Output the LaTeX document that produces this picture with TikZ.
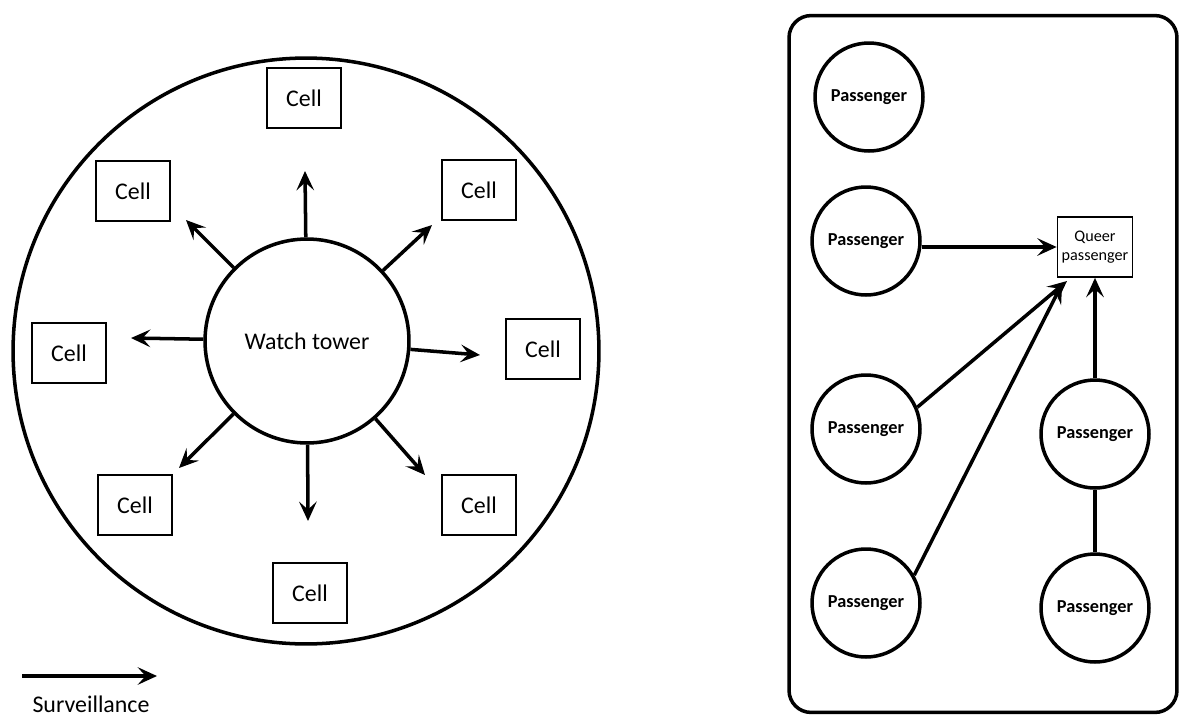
\documentclass[tikz,border=0pt]{standalone}
\usepackage{fontspec}
\setmainfont{Carlito}
\usetikzlibrary{arrows.meta,positioning}

\begin{document}
\begin{tikzpicture}[x=0.02cm,y=-0.02cm,>={Stealth[length=11pt,width=10pt,inset=4.5pt]},
  cell/.style={draw,line width=1pt,minimum width=1.48cm,minimum height=1.2cm,inner sep=0pt,font=\fontsize{13.6}{16}\selectfont},
  passenger/.style={draw,circle,line width=2pt,minimum size=2.16cm,inner sep=0pt,font=\fontsize{10.4}{12}\selectfont\bfseries},
  surv/.style={->,line width=2pt}]
  \useasboundingbox (0,0) rectangle (1180,717);

  % panopticon
  \node (prison) [draw,circle,line width=2pt,minimum size=11.72cm] at (306,351) {};
  \node (tower) [draw,circle,line width=2pt,minimum size=4.08cm,font=\fontsize{13.6}{16}\selectfont] at (307,341) {Watch tower};
  \node (c1) [cell] at (304,98) {Cell};
  \node (c2) [cell] at (133,191) {Cell};
  \node (c3) [cell] at (479,190) {Cell};
  \node (c4) [cell] at (69,353) {Cell};
  \node (c5) [cell] at (543,349) {Cell};
  \node (c6) [cell] at (135,505) {Cell};
  \node (c7) [cell] at (479,505) {Cell};
  \node (c8) [cell] at (310,593) {Cell};
  \coordinate (t1) at (305,171);
  \coordinate (t2) at (186,220);
  \coordinate (t3) at (432,225);
  \coordinate (t4) at (131,338);
  \coordinate (t5) at (480,355);
  \coordinate (t6) at (179,468);
  \coordinate (t7) at (425,475);
  \coordinate (t8) at (308,521);
  \draw[surv] (tower) -- (t1);
  \draw[surv] (tower) -- (t2);
  \draw[surv] (tower) -- (t3);
  \draw[surv] (tower) -- (t4);
  \draw[surv] (tower) -- (t5);
  \draw[surv] (tower) -- (t6);
  \draw[surv] (tower) -- (t7);
  \draw[surv] (tower) -- (t8);

  % legend
  \coordinate (la) at (22,676);
  \coordinate (lb) at (157,676);
  \draw[surv] (la) -- (lb);
  \node (legend) [inner sep=0pt,font=\fontsize{13.6}{16}\selectfont] at (91,704) {Surveillance};

  % train carriage
  \node (train) [draw,rounded corners=0.44cm,line width=2pt,minimum width=7.76cm,minimum height=13.94cm] at (983,364) {};
  \node (p1) [passenger] at (869,97) {Passenger};
  \node (p2) [passenger] at (866,241) {Passenger};
  \node (p3) [passenger] at (866,429) {Passenger};
  \node (p4) [passenger] at (866,603) {Passenger};
  \node (p5) [passenger] at (1095,434) {Passenger};
  \node (p6) [passenger] at (1095,608) {Passenger};
  \node (queer) [draw,line width=1pt,minimum width=1.5cm,minimum height=1.2cm,inner sep=0pt,align=center,font=\fontsize{9.2}{11}\selectfont] at (1095,247) {Queer\\passenger};
  \coordinate (q3) at (1067,281);
  \coordinate (q4) at (1062,284);
  \draw[surv] (p2.east |- queer.west) -- (queer.west);
  \draw[surv] (p3.23) -- (q3);
  \draw[surv] (p4.30) -- (q4);
  \draw[surv] (p5) -- (queer);
  \draw[line width=2pt] (p5) -- (p6);
\end{tikzpicture}
\end{document}
